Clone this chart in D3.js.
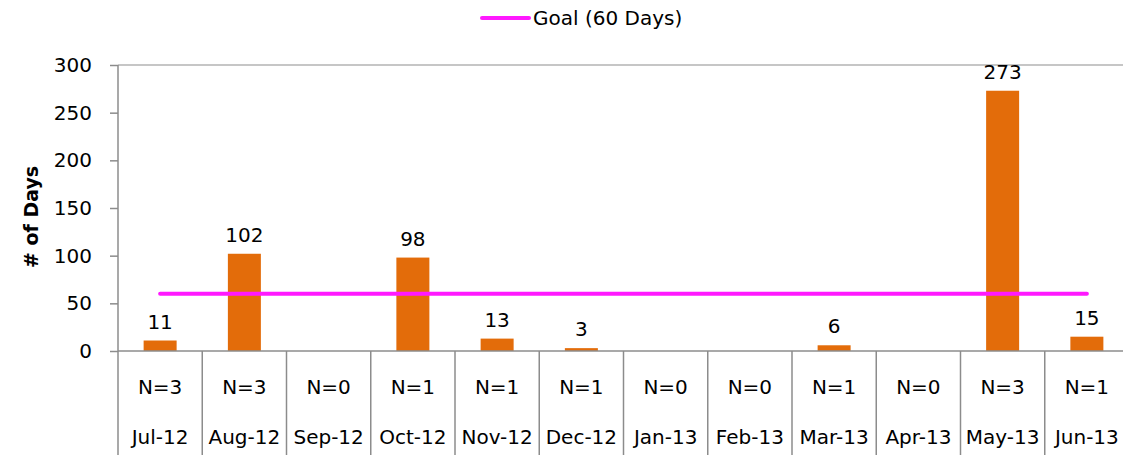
<!DOCTYPE html>
<html><head><meta charset="utf-8">
<script src="https://cdn.jsdelivr.net/npm/d3@7"></script>
<style>body{margin:0;background:#fff}svg{display:block}text{font-family:"DejaVu Sans",sans-serif;fill:#000}</style>
</head><body><svg id="c" width="1123" height="455"></svg>
<script>
const months = ["Jul-12","Aug-12","Sep-12","Oct-12","Nov-12","Dec-12","Jan-13","Feb-13","Mar-13","Apr-13","May-13","Jun-13"];
const counts = ["N=3","N=3","N=0","N=1","N=1","N=1","N=0","N=0","N=1","N=0","N=3","N=1"];
const days = [11,102,null,98,13,3,null,null,6,null,273,15];
const goal = [60,60,60,60,60,60,60,60,60,60,60,60];
const yTicks = [0,50,100,150,200,250,300];
const goalLabel = "Goal (60 Days)";
const yTitle = "# of Days";

const svg = d3.select("#c");
const L = 118, R = 1129, T = 65, B = 351;
const x = d3.scaleBand().domain(months).range([L, R]).paddingInner(0).paddingOuter(0);
const y = d3.scaleLinear().domain([0,300]).range([B, T]);
const axisCol = "#8c8c8c";
const fs = 20;
const ff = "'DejaVu Sans',sans-serif";

// top border line
svg.append("line").attr("x1",L).attr("x2",1123).attr("y1",y(300)).attr("y2",y(300)).attr("stroke","#b3b3b3").attr("stroke-width",1.5);

// y axis
const ya = svg.append("g").attr("transform",`translate(${L},0)`)
  .call(d3.axisLeft(y).tickValues(yTicks).tickSize(8).tickPadding(18));
ya.select(".domain").remove();
ya.selectAll(".tick line").attr("stroke",axisCol).attr("stroke-width",1.5);
ya.selectAll(".tick text").attr("font-size",fs).attr("font-family",ff).attr("fill","#000");
svg.append("line").attr("x1",L).attr("x2",L).attr("y1",T).attr("y2",455).attr("stroke",axisCol).attr("stroke-width",1.5);

// bars
const bw = 33;
const pts = months.map((m,i)=>({m,v:days[i]})).filter(d=>d.v!==null);
svg.selectAll("rect.bar").data(pts)
  .enter().append("rect").attr("class","bar")
  .attr("x",d=>x(d.m)+x.bandwidth()/2-bw/2).attr("width",bw)
  .attr("y",d=>y(d.v)).attr("height",d=>y(0)-y(d.v)).attr("fill","#E36C0A");

// data labels
svg.selectAll("text.lbl").data(pts)
  .enter().append("text").attr("class","lbl")
  .attr("x",d=>x(d.m)+x.bandwidth()/2).attr("y",d=>y(d.v)-12)
  .attr("text-anchor","middle").attr("font-size",fs).text(d=>d.v);

// goal line
const line = d3.line().x((d,i)=>x(months[i])+x.bandwidth()/2).y(d=>y(d));
svg.append("path").datum(goal).attr("d",line).attr("fill","none")
  .attr("stroke","#FF19FF").attr("stroke-width",4).attr("stroke-linecap","round");

// x axis line
svg.append("line").attr("x1",L).attr("x2",1123).attr("y1",B).attr("y2",B).attr("stroke",axisCol).attr("stroke-width",1.5);
// category dividers
svg.selectAll("line.div").data(months).enter().append("line").attr("class","div")
  .attr("x1",d=>x(d)+x.bandwidth()).attr("x2",d=>x(d)+x.bandwidth())
  .attr("y1",B).attr("y2",455).attr("stroke",axisCol).attr("stroke-width",1.5);

svg.selectAll("text.n").data(counts).enter().append("text").attr("class","n")
  .attr("x",(d,i)=>x(months[i])+x.bandwidth()/2).attr("y",387).attr("dy","0.35em")
  .attr("text-anchor","middle").attr("font-size",fs).text(d=>d);
svg.selectAll("text.m").data(months).enter().append("text").attr("class","m")
  .attr("x",d=>x(d)+x.bandwidth()/2).attr("y",437).attr("dy","0.35em")
  .attr("text-anchor","middle").attr("font-size",fs).text(d=>d);

// y title
svg.append("text").attr("transform",`translate(31,217) rotate(-90)`)
  .attr("text-anchor","middle").attr("dy","0.35em").attr("font-size",19).attr("font-weight","bold").text(yTitle);

// legend
svg.append("line").attr("x1",482).attr("x2",529).attr("y1",18).attr("y2",18)
  .attr("stroke","#FF19FF").attr("stroke-width",4).attr("stroke-linecap","round");
svg.append("text").attr("x",533).attr("y",18).attr("dy","0.35em").attr("font-size",fs).text(goalLabel);
</script></body></html>
